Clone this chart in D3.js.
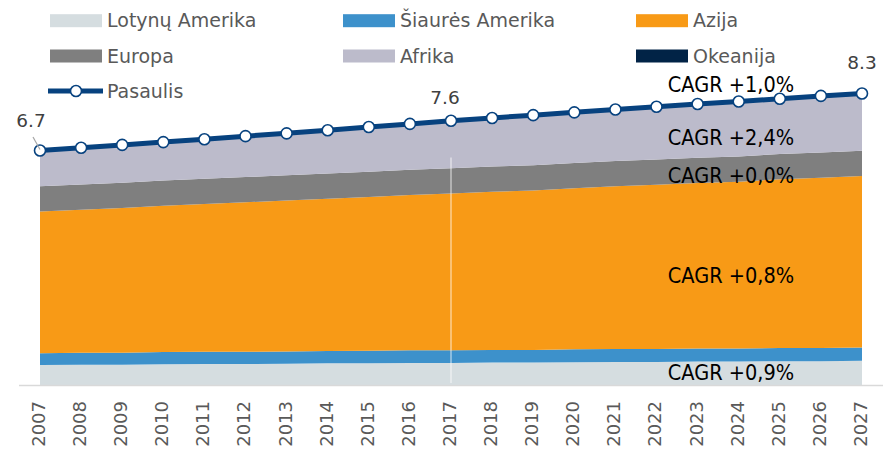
<!DOCTYPE html>
<html>
<head>
<meta charset="utf-8">
<script src="https://cdn.jsdelivr.net/npm/d3@7"></script>
<style>
  body { margin: 0; background: #fff; }
  svg { display: block; font-family: "DejaVu Sans", sans-serif; }
</style>
</head>
<body>
<div id="chart"></div>
<script>
// populiacija, mlrd.
const years = [2007,2008,2009,2010,2011,2012,2013,2014,2015,2016,2017,2018,2019,2020,2021,2022,2023,2024,2025,2026,2027];
const latAm   = [0.57,0.58,0.58,0.59,0.60,0.60,0.61,0.62,0.62,0.63,0.63,0.64,0.64,0.65,0.66,0.66,0.67,0.67,0.68,0.68,0.69];
const northAm = [0.34,0.34,0.34,0.35,0.35,0.35,0.35,0.35,0.36,0.36,0.36,0.36,0.36,0.37,0.37,0.37,0.37,0.37,0.38,0.38,0.38];
const asia    = [4.05,4.09,4.14,4.18,4.22,4.27,4.31,4.35,4.39,4.44,4.48,4.52,4.56,4.60,4.65,4.69,4.73,4.77,4.82,4.86,4.90];
const europe  = [0.72,0.72,0.72,0.72,0.72,0.72,0.72,0.72,0.72,0.72,0.72,0.72,0.72,0.72,0.72,0.72,0.72,0.72,0.72,0.72,0.72];
const africa  = [0.99,1.02,1.04,1.06,1.09,1.13,1.16,1.20,1.24,1.27,1.32,1.35,1.39,1.41,1.43,1.47,1.50,1.53,1.54,1.57,1.59];
const oceania = [0.035,0.035,0.036,0.036,0.037,0.037,0.038,0.039,0.039,0.040,0.040,0.041,0.041,0.042,0.043,0.043,0.044,0.045,0.045,0.046,0.047];
const world   = [6.70,6.78,6.86,6.94,7.02,7.11,7.19,7.28,7.37,7.46,7.55,7.63,7.71,7.79,7.87,7.95,8.03,8.10,8.18,8.26,8.33];

const seriesNames = ["Lotynų Amerika", "Šiaurės Amerika", "Azija", "Europa", "Afrika", "Okeanija"];
const seriesKeys = ["latAm", "northAm", "asia", "europe", "africa", "oceania"];
const colors = ["#d5dde0", "#3d91cb", "#f89a16", "#7f7f7f", "#bcbbcb", "#012346"];
const worldName = "Pasaulis";
const worldLabels = [[2007, "6.7"], [2017, "7.6"], [2027, "8.3"]];
const cagrLabels = ["CAGR +1,0%", "CAGR +2,4%", "CAGR +0,0%", "CAGR +0,8%", "CAGR +0,9%"];

const width = 892, height = 451;
const lineColor = "#07427f";

const table = years.map((yr, i) => ({
  year: yr, latAm: latAm[i], northAm: northAm[i], asia: asia[i],
  europe: europe[i], africa: africa[i], oceania: oceania[i], world: world[i]
}));

const svg = d3.select("#chart").append("svg")
  .attr("width", width)
  .attr("height", height);

const x = d3.scaleLinear().domain([2007, 2027]).range([40, 862]);
const y = d3.scaleLinear().domain([0, 9]).range([385, 70]);

const stack = d3.stack().keys(seriesKeys);
const layers = stack(table);

const area = d3.area()
  .x(d => x(d.data.year))
  .y0(d => y(d[0]))
  .y1(d => y(d[1]));

svg.append("g").selectAll("path")
  .data(layers)
  .enter()
  .append("path")
  .attr("d", area)
  .style("fill", (d, i) => colors[i]);

// white divider at 2017
svg.append("line")
  .attr("x1", x(2017)).attr("x2", x(2017))
  .attr("y1", y(6.5)).attr("y2", y(0) - 2)
  .style("stroke", "#ffffff")
  .style("stroke-opacity", 0.8)
  .style("stroke-width", 1);

// axis baseline
svg.append("line")
  .attr("x1", 19).attr("x2", 883)
  .attr("y1", y(0) + 0.5).attr("y2", y(0) + 0.5)
  .style("stroke", "#d9d9d9")
  .style("stroke-width", 1.5);

// year labels
svg.append("g").selectAll("text")
  .data(years)
  .enter()
  .append("text")
  .attr("transform", d => "translate(" + (x(d) - 1.5) + ",401) rotate(-90)")
  .attr("text-anchor", "end")
  .attr("dy", "0.36em")
  .style("font-size", "18px")
  .style("fill", "#595959")
  .text(d => d);

// world line
const line = d3.line()
  .x(d => x(d.year))
  .y(d => y(d.world));

svg.append("path")
  .datum(table)
  .attr("d", line)
  .style("fill", "none")
  .style("stroke", lineColor)
  .style("stroke-width", 5);

svg.append("g").selectAll("circle")
  .data(table)
  .enter()
  .append("circle")
  .attr("cx", d => x(d.year))
  .attr("cy", d => y(d.world))
  .attr("r", 5.5)
  .style("fill", "#fff")
  .style("stroke", lineColor)
  .style("stroke-width", 1.6);

// world labels
const lblPos = { 2007: [-9, -24], 2017: [-6, -17], 2027: [0, -24] };
svg.append("g").selectAll("text")
  .data(worldLabels)
  .enter()
  .append("text")
  .attr("x", d => x(d[0]) + lblPos[d[0]][0])
  .attr("y", d => y(world[years.indexOf(d[0])]) + lblPos[d[0]][1])
  .attr("text-anchor", "middle")
  .style("font-size", "18.5px")
  .style("fill", "#404040")
  .text(d => d[1]);

// leader for 6.7
svg.append("line")
  .attr("x1", 33).attr("y1", 137)
  .attr("x2", x(2007)).attr("y2", y(world[0]) - 1)
  .style("stroke", "#a6a6a6")
  .style("stroke-width", 1.2);

// CAGR annotations
const cagrY = [92, 145, 183, 283, 380];
svg.append("g").selectAll("text")
  .data(cagrLabels)
  .enter()
  .append("text")
  .attr("x", 731)
  .attr("y", (d, i) => cagrY[i])
  .attr("text-anchor", "middle")
  .style("font-family", "'DejaVu Sans Condensed', 'DejaVu Sans', sans-serif")
  .style("font-size", "21.5px")
  .style("fill", "#000")
  .text(d => d);

// legend
const legendCols = [50, 343, 636];
const legendRows = [20.7, 56, 91];
const legend = svg.append("g");
seriesNames.forEach((name, i) => {
  const cx = legendCols[i % 3], cy = legendRows[Math.floor(i / 3)];
  legend.append("rect")
    .attr("x", cx).attr("y", cy - 6.5)
    .attr("width", 52).attr("height", 13)
    .style("fill", colors[i]);
  legend.append("text")
    .attr("x", cx + 57).attr("y", cy + 6.6)
    .style("font-size", "19px")
    .style("fill", "#595959")
    .text(name);
});
legend.append("line")
  .attr("x1", 48).attr("x2", 103)
  .attr("y1", legendRows[2]).attr("y2", legendRows[2])
  .style("stroke", lineColor)
  .style("stroke-width", 5);
legend.append("circle")
  .attr("cx", 76).attr("cy", legendRows[2]).attr("r", 5.5)
  .style("fill", "#fff")
  .style("stroke", lineColor)
  .style("stroke-width", 1.6);
legend.append("text")
  .attr("x", 107).attr("y", legendRows[2] + 6.6)
  .style("font-size", "19px")
  .style("fill", "#595959")
  .text(worldName);
</script>
</body>
</html>
